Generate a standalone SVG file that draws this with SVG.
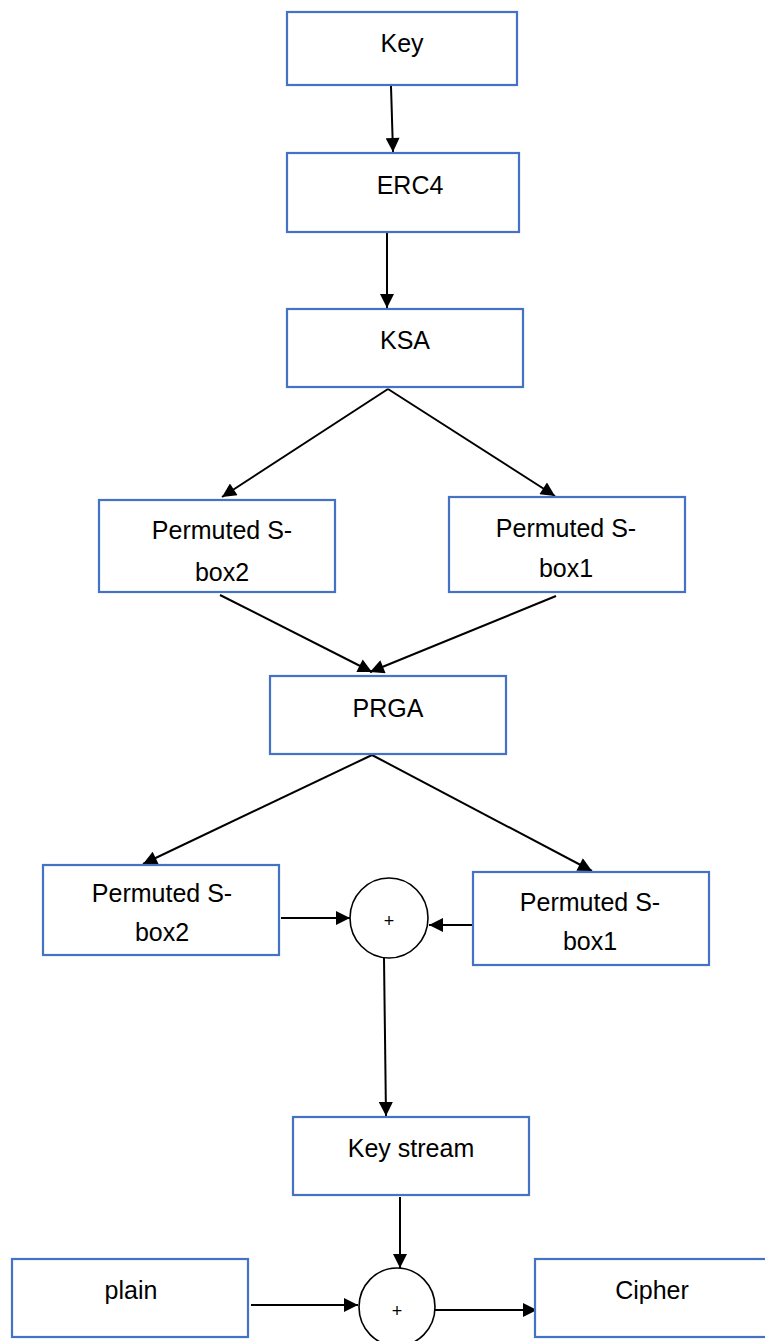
<svg xmlns="http://www.w3.org/2000/svg" width="765" height="1341" viewBox="0 0 765 1341">
<style>
.box{fill:#fff;stroke:#4472C4;stroke-width:2.2}
.t{font-family:"Liberation Sans",Arial,sans-serif;font-size:25px;fill:#000;text-anchor:middle}
.p{font-family:"Liberation Sans",Arial,sans-serif;font-size:18px;fill:#000;text-anchor:middle}
.c{fill:#fff;stroke:#000;stroke-width:1.6}
.l{stroke:#000;stroke-width:2;fill:none;marker-end:url(#ah)}
</style>
<defs>
<marker id="ah" viewBox="0 0 10 10" refX="10" refY="5" markerWidth="8" markerHeight="7" orient="auto" markerUnits="strokeWidth">
<path d="M0,0 L10,5 L0,10 z" fill="#000"/>
</marker>
</defs>
<rect width="765" height="1341" fill="#fff"/>
<g id="connectors">
<line class="l" x1="391" y1="86" x2="393" y2="152"/>
<line class="l" x1="387" y1="233" x2="387" y2="308"/>
<line class="l" x1="388" y1="389" x2="222" y2="497"/>
<line class="l" x1="388" y1="389" x2="555" y2="496"/>
<line class="l" x1="220" y1="595" x2="372" y2="672"/>
<line class="l" x1="556" y1="596" x2="370" y2="672"/>
<line class="l" x1="372" y1="755" x2="143" y2="864"/>
<line class="l" x1="372" y1="755" x2="592" y2="871"/>
<line class="l" x1="281" y1="918" x2="350" y2="918"/>
<line class="l" x1="473" y1="925" x2="429" y2="925"/>
<line class="l" x1="384" y1="958" x2="386" y2="1116"/>
<line class="l" x1="400" y1="1197" x2="400" y2="1268"/>
<line class="l" x1="251" y1="1305" x2="358" y2="1305"/>
<line class="l" x1="435" y1="1310" x2="537" y2="1310"/>
</g>
<g id="key"><rect class="box" x="287" y="12" width="230" height="73"/><text class="t" x="402" y="52">Key</text></g>
<g id="erc4"><rect class="box" x="287" y="153" width="232" height="79"/><text class="t" x="410" y="194">ERC4</text></g>
<g id="ksa"><rect class="box" x="287" y="309" width="236" height="78"/><text class="t" x="405" y="349">KSA</text></g>
<g id="sbox2a"><rect class="box" x="99" y="500" width="236" height="92"/><text class="t" x="222" y="539">Permuted S-</text><text class="t" x="222" y="581">box2</text></g>
<g id="sbox1a"><rect class="box" x="449" y="497" width="236" height="95"/><text class="t" x="566" y="537">Permuted S-</text><text class="t" x="566" y="577">box1</text></g>
<g id="prga"><rect class="box" x="270" y="676" width="236" height="78"/><text class="t" x="388" y="717">PRGA</text></g>
<g id="sbox2b"><rect class="box" x="43" y="865" width="236" height="90"/><text class="t" x="162" y="902">Permuted S-</text><text class="t" x="162" y="941">box2</text></g>
<g id="sbox1b"><rect class="box" x="473" y="872" width="236" height="93"/><text class="t" x="590" y="911">Permuted S-</text><text class="t" x="590" y="950">box1</text></g>
<g id="xor1"><ellipse class="c" cx="389" cy="918" rx="39" ry="40"/><text class="p" x="389" y="927">+</text></g>
<g id="keystream"><rect class="box" x="293" y="1117" width="236" height="78"/><text class="t" x="411" y="1157">Key stream</text></g>
<g id="plain"><rect class="box" x="12" y="1259" width="236" height="78"/><text class="t" x="131" y="1299">plain</text></g>
<g id="xor2"><ellipse class="c" cx="397" cy="1307" rx="38" ry="39"/><text class="p" x="397" y="1317">+</text></g>
<g id="cipher"><rect class="box" x="535" y="1259" width="240" height="78"/><text class="t" x="652" y="1299">Cipher</text></g>
</svg>
